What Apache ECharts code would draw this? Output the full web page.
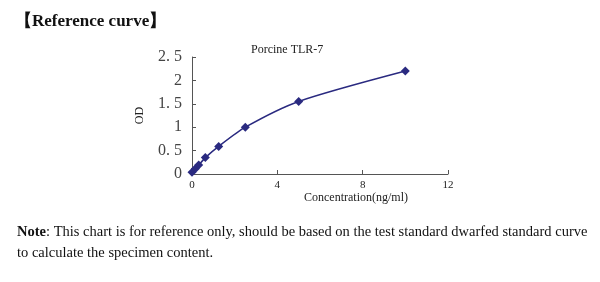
<!DOCTYPE html>
<html><head><meta charset="utf-8">
<script src="https://cdn.jsdelivr.net/npm/echarts@6/dist/echarts.min.js"></script>
<style>html,body{margin:0;padding:0;background:#fff}#c{width:600px;height:282px}</style>
</head><body><div id="c"></div>
<script>
var concentrations = [0, 0.156, 0.3125, 0.625, 1.25, 2.5, 5, 10];
var odValues = [0.04, 0.11, 0.19, 0.35, 0.59, 1.0, 1.55, 2.2];
var xTicks = [0, 4, 8, 12];
var yTicks = [0, 0.5, 1, 1.5, 2, 2.5];
var pageTitle = '【Reference curve】';
var chartTitle = 'Porcine TLR-7';
var xName = 'Concentration(ng/ml)';
var yName = 'OD';
var noteBold = 'Note';
var noteLine1 = ': This chart is for reference only, should be based on the test standard dwarfed standard curve';
var noteLine2 = 'to calculate the specimen content.';

var chart = echarts.init(document.getElementById('c'), null, {renderer: 'canvas'});
var serif = '"Liberation Serif", "Times New Roman", serif';
chart.setOption({
  animation: false,
  backgroundColor: '#fff',
  title: [
    {text: pageTitle, left: 10, top: 8, textStyle: {fontFamily: serif, fontWeight: 'bold', fontSize: 17, color: '#111'}},
    {text: chartTitle, left: 246, top: 39, textStyle: {fontFamily: serif, fontWeight: 'normal', fontSize: 12, color: '#222'}}
  ],
  graphic: [
    {type: 'text', left: 17, top: 225, style: {
      text: '{b|' + noteBold + '}{n|' + noteLine1 + '}\n{n|' + noteLine2 + '}',
      rich: {
        b: {fontFamily: serif, fontWeight: 'bold', fontSize: 14.5, fill: '#111', lineHeight: 21},
        n: {fontFamily: serif, fontSize: 14.5, fill: '#111', lineHeight: 21}
      }
    }}
  ],
  grid: {left: 192, right: 152, top: 57, bottom: 108},
  xAxis: {
    type: 'value', min: 0, max: 12, interval: 4,
    name: xName, nameLocation: 'middle', nameGap: 18,
    nameTextStyle: {fontFamily: serif, fontSize: 12, color: '#222', padding: [0, 0, 0, 72]},
    axisLine: {show: true, lineStyle: {color: '#555', width: 1}},
    axisTick: {show: true, inside: true, length: 4, lineStyle: {color: '#555'}},
    axisLabel: {fontFamily: serif, fontSize: 11, color: '#222', margin: 6,
      customValues: xTicks},
    splitLine: {show: false}
  },
  yAxis: {
    type: 'value', min: 0, max: 2.5, interval: 0.5,
    name: yName, nameLocation: 'middle', nameGap: 46, nameRotate: 90,
    nameTextStyle: {fontFamily: serif, fontSize: 12, color: '#222'},
    axisLine: {show: true, lineStyle: {color: '#555', width: 1}},
    axisTick: {show: true, inside: true, length: 4, lineStyle: {color: '#555'}},
    axisLabel: {fontFamily: serif, fontSize: 16, color: '#444', margin: 10,
      customValues: yTicks,
      formatter: function (v) { return String(v).replace('.', '. '); }},
    splitLine: {show: false}
  },
  series: [{
    type: 'line',
    data: concentrations.map(function (c, i) { return [c, odValues[i]]; }),
    smooth: 0.25,
    symbol: 'diamond', symbolSize: 9,
    lineStyle: {color: '#2A2A80', width: 1.5},
    itemStyle: {color: '#2A2A80'}
  }]
});
</script></body></html>
